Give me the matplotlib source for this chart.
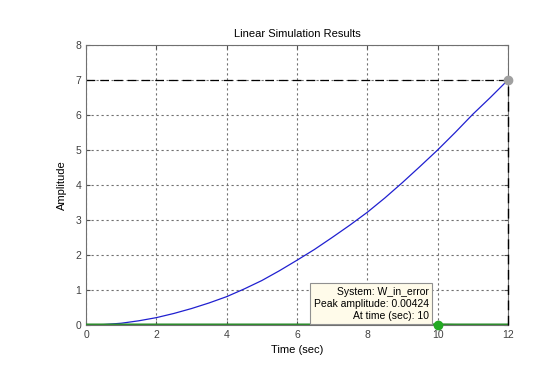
import numpy as np
import matplotlib.pyplot as plt
plt.rcParams['font.family'] = ['Liberation Sans', 'DejaVu Sans']

t = [0, 0.5, 1, 1.5, 2, 2.5, 3, 3.5, 4, 4.5, 5, 5.5, 6, 6.5, 7, 7.5, 8, 8.5,
     9, 9.5, 10, 10.5, 11, 11.5, 12]
response = [0, 0.012, 0.05, 0.12, 0.21, 0.33, 0.47, 0.63, 0.81, 1.03, 1.27, 1.55,
            1.85, 2.16, 2.5, 2.85, 3.22, 3.63, 4.07, 4.53, 5.0, 5.5, 6.02, 6.5, 7.0]
error = [0.0] * len(t)
error[20] = 0.00424
peak_t, peak_y = 12, 7.0
err_peak_t, err_peak_y = 10, 0.00424

fig = plt.figure(figsize=(5.6, 3.65), dpi=100)
fig.patch.set_facecolor('white')
ax = fig.add_axes([0.1536, 0.1096, 0.7534, 0.7671])

ax.plot(t, response, color='#2020d0', linewidth=0.9, zorder=3)
ax.plot(t, error, color='#2e8b2e', linewidth=2.2, zorder=4)

# peak markers with dashed guides
ax.plot([0, peak_t], [peak_y, peak_y], color='black', linestyle=(0, (7, 4)), linewidth=0.9, zorder=2)
ax.plot([peak_t, peak_t], [0, peak_y], color='black', linestyle=(0, (7, 4)), linewidth=1.0,
        zorder=5, clip_on=False)
ax.plot(peak_t, peak_y, 'o', color='#a0a0a0', markersize=6, zorder=6, clip_on=False)
ax.plot(err_peak_t, err_peak_y, 'o', color='#22aa22', markersize=6, zorder=6, clip_on=False)

ax.set_xlim(0, 12)
ax.set_ylim(0, 8)
ax.set_xticks(range(0, 13, 2))
ax.set_yticks(range(0, 9))
ax.grid(True, color='#707070', linestyle=(0, (2, 2.5)), linewidth=0.8)
ax.tick_params(direction='in', top=True, right=True, labelsize=7.5,
               colors='#505050', labelcolor='#404040', length=3)
for s in ax.spines.values():
    s.set_color('#707070')

ax.set_title('Linear Simulation Results', fontsize=8, pad=6)
ax.set_xlabel('Time (sec)', fontsize=8, labelpad=4)
ax.set_ylabel('Amplitude', fontsize=8, labelpad=6)

ax.annotate('System: W_in_error\nPeak amplitude: 0.00424\nAt time (sec): 10',
            xy=(err_peak_t, err_peak_y), xytext=(9.75, 0.12), textcoords='data',
            ha='right', va='bottom', fontsize=7.5, multialignment='right',
            linespacing=1.25, zorder=7,
            bbox=dict(boxstyle='square,pad=0.35', fc='#fffbea', ec='#909090', lw=0.8))

fig.savefig('out.png', dpi=100)
